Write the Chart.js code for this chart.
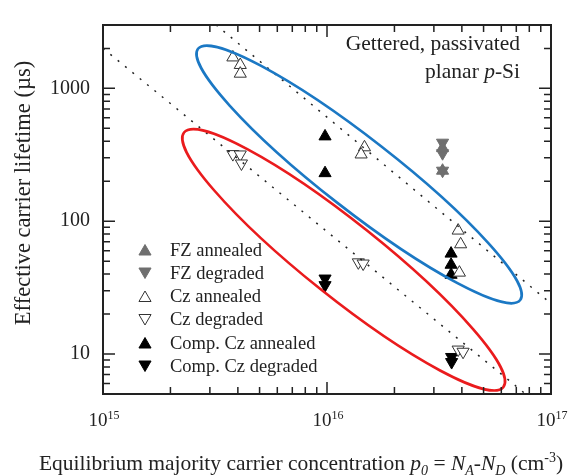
<!DOCTYPE html>
<html>
<head>
<meta charset="utf-8">
<script src="https://cdn.jsdelivr.net/npm/chart.js@4.4.1/dist/chart.umd.min.js"></script>
<style>
  html, body { margin: 0; padding: 0; background: #fff; }
  #wrap { width: 568px; height: 475px; position: relative; }
</style>
</head>
<body>
<div id="wrap"><canvas id="chart"></canvas></div>
<script>
// ---- data ----
const fzAnnealedX = [3.28e16, 3.28e16];
const fzAnnealedY = [355, 240];
const fzDegradedX = [3.28e16, 3.28e16, 3.28e16];
const fzDegradedY = [390, 325, 240];

const czAnnealedX = [3.8e15, 4.1e15, 4.1e15, 1.47e16, 1.42e16, 3.85e16, 3.95e16, 3.9e16];
const czAnnealedY = [1710, 1500, 1290, 360, 318, 85, 67, 41];
const czDegradedX = [3.8e15, 4.1e15, 4.15e15, 1.38e16, 1.45e16, 3.85e16, 4.05e16];
const czDegradedY = [320, 318, 272, 49, 48, 10.8, 10.4];

const compAnnealedX = [9.8e15, 9.8e15, 3.58e16, 3.58e16, 3.58e16];
const compAnnealedY = [435, 230, 57, 47, 39.5];
const compDegradedX = [9.8e15, 9.8e15, 3.6e16, 3.6e16];
const compDegradedY = [37, 33, 9.5, 8.7];

// dotted guide lines (end points)
const guide1X = [3.2e15, 1e17];
const guide1Y = [3000, 24];
const guide2X = [1e15, 7.7e16];
const guide2Y = [2000, 5];

// ellipses: centre, one end of major axis, one end of minor axis
const blueEllipse = [[1.391e16, 225], [2.655e15, 1987], [1.098e16, 140]];
const redEllipse = [[1.187e16, 51.2], [2.3e15, 465], [9.28e15, 31.1]];

const xTicks = [1e15, 1e16, 1e17];
const xTickExp = ['15', '16', '17'];
const yTicks = [10, 100, 1000];

const legendLabels = ['FZ annealed', 'FZ degraded', 'Cz annealed', 'Cz degraded',
                      'Comp. Cz annealed', 'Comp. Cz degraded'];

const FONT = '"Liberation Serif", "Times New Roman", serif';
const INK = '#222';

function zip(xs, ys) {
  return xs.map((x, i) => ({ x: x, y: ys[i] }));
}

// ============================
function markerSet(label, xs, ys, fill, down) {
  return {
    label: label,
    data: zip(xs, ys),
    pointStyle: 'triangle',
    pointRotation: down ? 180 : 0,
    pointRadius: 7,
    pointHoverRadius: 7,
    pointBackgroundColor: fill,
    pointBorderColor: fill === '#fff' ? '#333' : fill,
    pointBorderWidth: 1,
    showLine: false
  };
}

function guideSet(xs, ys) {
  return {
    label: '',
    data: zip(xs, ys),
    showLine: true,
    pointRadius: 0,
    borderColor: INK,
    borderWidth: 1.5,
    borderDash: [2, 7.5],
    fill: false
  };
}

const datasets = [
  guideSet(guide1X, guide1Y),
  guideSet(guide2X, guide2Y),
  markerSet(legendLabels[0], fzAnnealedX, fzAnnealedY, '#6f6f6f', false),
  markerSet(legendLabels[1], fzDegradedX, fzDegradedY, '#6f6f6f', true),
  markerSet(legendLabels[2], czAnnealedX, czAnnealedY, '#fff', false),
  markerSet(legendLabels[3], czDegradedX, czDegradedY, '#fff', true),
  markerSet(legendLabels[4], compAnnealedX, compAnnealedY, '#000', false),
  markerSet(legendLabels[5], compDegradedX, compDegradedY, '#000', true)
];

// ============================
function drawTriangle(ctx, x, y, r, down, fill, stroke) {
  const s = down ? -1 : 1;
  ctx.beginPath();
  ctx.moveTo(x, y - s * r);
  ctx.lineTo(x + r * Math.sqrt(3) / 2, y + s * r / 2);
  ctx.lineTo(x - r * Math.sqrt(3) / 2, y + s * r / 2);
  ctx.closePath();
  ctx.fillStyle = fill;
  ctx.fill();
  ctx.strokeStyle = stroke;
  ctx.lineWidth = 1;
  ctx.stroke();
}

// rich text: segments {t, it, sc:'sub'|'sup'}
function drawRich(ctx, segs, x, y, size, align) {
  const small = Math.round(size * 0.65);
  const parts = segs.map(s => {
    const fs = s.sc ? small : size;
    ctx.font = (s.it ? 'italic ' : '') + fs + 'px ' + FONT;
    return { s: s, font: ctx.font, w: ctx.measureText(s.t).width };
  });
  const total = parts.reduce((a, p) => a + p.w, 0);
  let cx = align === 'right' ? x - total : align === 'center' ? x - total / 2 : x;
  ctx.textBaseline = 'alphabetic';
  ctx.textAlign = 'left';
  parts.forEach(p => {
    ctx.font = p.font;
    let dy = 0;
    if (p.s.sc === 'sub') dy = size * 0.22;
    if (p.s.sc === 'sup') dy = -size * 0.38;
    ctx.fillText(p.s.t, cx, y + dy);
    cx += p.w;
  });
}

function drawEllipse(ctx, chart, e, color) {
  const sx = chart.scales.x, sy = chart.scales.y;
  const c = { x: sx.getPixelForValue(e[0][0]), y: sy.getPixelForValue(e[0][1]) };
  const p = { x: sx.getPixelForValue(e[1][0]), y: sy.getPixelForValue(e[1][1]) };
  const q = { x: sx.getPixelForValue(e[2][0]), y: sy.getPixelForValue(e[2][1]) };
  const a = Math.hypot(p.x - c.x, p.y - c.y);
  const b = Math.hypot(q.x - c.x, q.y - c.y);
  const ang = Math.atan2(p.y - c.y, p.x - c.x);
  ctx.beginPath();
  ctx.ellipse(c.x, c.y, a, b, ang, 0, Math.PI * 2);
  ctx.strokeStyle = color;
  ctx.lineWidth = 2.6;
  ctx.stroke();
}

// ============================
const decorPlugin = {
  id: 'decor',
  afterDatasetsDraw(chart) {
    const ctx = chart.ctx;
    ctx.save();
    drawEllipse(ctx, chart, blueEllipse, '#1b78c4');
    drawEllipse(ctx, chart, redEllipse, '#ea1b1d');
    ctx.restore();
  },
  afterDraw(chart) {
    const ctx = chart.ctx;
    const a = chart.chartArea;
    const sx = chart.scales.x, sy = chart.scales.y;
    ctx.save();

    // frame
    ctx.strokeStyle = INK;
    ctx.lineWidth = 2;
    ctx.strokeRect(a.left, a.top, a.right - a.left, a.bottom - a.top);

    // inward ticks on all four sides
    ctx.lineWidth = 1.5;
    for (let d = 15; d <= 16; d++) {
      for (let m = 1; m <= 9; m++) {
        const px = sx.getPixelForValue(m * Math.pow(10, d));
        const len = m === 1 ? 12 : 7;
        ctx.beginPath();
        ctx.moveTo(px, a.bottom); ctx.lineTo(px, a.bottom - len);
        ctx.moveTo(px, a.top); ctx.lineTo(px, a.top + len);
        ctx.stroke();
      }
    }
    for (let d = 0; d <= 3; d++) {
      for (let m = 1; m <= 9; m++) {
        const v = m * Math.pow(10, d);
        if (v < sy.min || v > sy.max) continue;
        const py = sy.getPixelForValue(v);
        const len = m === 1 ? 12 : 7;
        ctx.beginPath();
        ctx.moveTo(a.left, py); ctx.lineTo(a.left + len, py);
        ctx.moveTo(a.right, py); ctx.lineTo(a.right - len, py);
        ctx.stroke();
      }
    }

    ctx.fillStyle = INK;
    // x tick labels 10^n
    xTicks.forEach((v, i) => {
      drawRich(ctx, [{ t: '10' }, { t: xTickExp[i], sc: 'sup' }],
               sx.getPixelForValue(v) + 1, 426, 19, 'center');
    });

    // x title
    drawRich(ctx, [
      { t: 'Equilibrium majority carrier concentration ' },
      { t: 'p', it: true }, { t: '0', it: true, sc: 'sub' },
      { t: ' = ' },
      { t: 'N', it: true }, { t: 'A', it: true, sc: 'sub' },
      { t: '-' },
      { t: 'N', it: true }, { t: 'D', it: true, sc: 'sub' },
      { t: ' (cm' }, { t: '-3', sc: 'sup' }, { t: ')' }
    ], 301, 470, 21.5, 'center');

    // y title
    ctx.save();
    ctx.translate(30, 193);
    ctx.rotate(-Math.PI / 2);
    ctx.font = '22.5px ' + FONT;
    ctx.textAlign = 'center';
    ctx.textBaseline = 'alphabetic';
    ctx.fillText('Effective carrier lifetime (\u00b5s)', 0, 0);
    ctx.restore();

    // annotation
    drawRich(ctx, [{ t: 'Gettered, passivated' }], 520, 50, 21.5, 'right');
    drawRich(ctx, [{ t: 'planar ' }, { t: 'p', it: true }, { t: '-Si' }], 520, 78, 21.5, 'right');

    // legend
    const fills = ['#6f6f6f', '#6f6f6f', '#fff', '#fff', '#000', '#000'];
    const rowY = [250, 273, 296.5, 319.5, 343, 366];
    legendLabels.forEach((lab, i) => {
      const down = i % 2 === 1;
      drawTriangle(ctx, 145, rowY[i] + (down ? -1.5 : 1.5), 7, down, fills[i],
                   fills[i] === '#fff' ? '#333' : fills[i]);
      ctx.fillStyle = INK;
      ctx.font = '18.5px ' + FONT;
      ctx.textAlign = 'left';
      ctx.textBaseline = 'middle';
      ctx.fillText(lab, 170, rowY[i] + 1);
    });

    ctx.restore();
  }
};

// ============================
new Chart(document.getElementById('chart'), {
  type: 'scatter',
  data: { datasets: datasets },
  options: {
    responsive: true,
    maintainAspectRatio: false,
    animation: false,
    layout: { padding: { top: 13, right: 17, left: 0, bottom: 0 } },
    plugins: { legend: { display: false }, tooltip: { enabled: false } },
    scales: {
      x: {
        type: 'logarithmic',
        min: 1e15,
        max: 1e17,
        grid: { display: false, drawTicks: false },
        border: { display: false },
        ticks: { display: false },
        afterFit: s => { s.height = 81; }
      },
      y: {
        type: 'logarithmic',
        min: 5,
        max: 3000,
        grid: { display: false, drawTicks: false },
        border: { display: false },
        afterBuildTicks: s => { s.ticks = yTicks.map(v => ({ value: v })); },
        ticks: {
          padding: 13,
          color: INK,
          font: { family: FONT, size: 20 },
          callback: v => String(v)
        },
        afterFit: s => { s.width = 103; }
      }
    }
  },
  plugins: [decorPlugin]
});
</script>
</body>
</html>
